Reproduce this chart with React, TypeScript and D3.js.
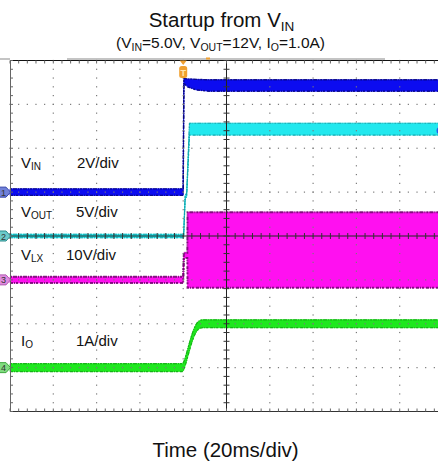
import React from "react";
import * as d3 from "d3";

// Oscilloscope capture: startup from VIN, four channels.
// Horizontal: 20 ms/div over 10 divisions. Vertical: 8 divisions.

const W = 438;
const H = 466;

// Channel 1: VIN (V), 2 V/div
const vinTime = [0, 80.0, 80.3, 82, 86, 92, 100, 200];
const vinLow = [-0.15, -0.15, 4.95, 4.8, 4.66, 4.6, 4.6, 4.6];
const vinHigh = [0.15, 0.15, 5.18, 5.16, 5.14, 5.12, 5.12, 5.12];

// Channel 2: VOUT (V), 5 V/div
const voutTime = [0, 80.2, 80.9, 81.6, 82.9, 83.4, 200];
const voutLow = [-0.2, -0.2, 4.2, 4.5, 11.5, 11.5, 11.5];
const voutHigh = [0.2, 0.2, 4.6, 4.9, 12.85, 12.85, 12.85];

// Channel 3: VLX (V), 10 V/div
const vlxTime = [0, 80.0, 80.3, 81.9, 82.0, 200];
const vlxLow = [-0.7, -0.7, 5.0, 5.0, -1.8, -1.8];
const vlxHigh = [0.7, 0.7, 6.2, 6.2, 15.4, 15.4];

// Channel 4: IO (A), 1 A/div
const ioTime = [0, 79.6, 80.4, 81.2, 82.0, 82.8, 83.6, 84.4, 85.2, 86.0, 87.0, 88.0, 89.0, 200];
const ioLow = [-0.09, -0.09, -0.03, 0.09, 0.23, 0.37, 0.51, 0.63, 0.73, 0.81, 0.87, 0.9, 0.91, 0.91];
const ioHigh = [0.09, 0.09, 0.15, 0.27, 0.41, 0.55, 0.69, 0.81, 0.91, 0.99, 1.05, 1.08, 1.09, 1.09];

const channelLabels = ["IN", "OUT", "LX", "O"];
const channelScales = ["2V/div", "5V/div", "10V/div", "1A/div"];

const TRIGGER_MS = 80;

type Channel = {
  id: number;
  time: number[];
  low: number[];
  high: number[];
  perDiv: number;
  offsetDiv: number;
  fill: string;
  edge: string;
  edgeWidth: number;
  marker: string;
  markerEdge: string;
  curve: d3.CurveFactory;
};

const channels: Channel[] = [
  { id: 1, time: vinTime, low: vinLow, high: vinHigh, perDiv: 2, offsetDiv: 1, fill: "#0c0cf0", edge: "#06067a", edgeWidth: 1.4, marker: "#7080d8", markerEdge: "#3040a8", curve: d3.curveLinear },
  { id: 2, time: voutTime, low: voutLow, high: voutHigh, perDiv: 5, offsetDiv: 0, fill: "#22e8ee", edge: "#109aa2", edgeWidth: 1.2, marker: "#6ccaca", markerEdge: "#2c8c8c", curve: d3.curveLinear },
  { id: 3, time: vlxTime, low: vlxLow, high: vlxHigh, perDiv: 10, offsetDiv: -1, fill: "#ff10f0", edge: "#6e0a6c", edgeWidth: 2, marker: "#e08ce0", markerEdge: "#b058b0", curve: d3.curveLinear },
  { id: 4, time: ioTime, low: ioLow, high: ioHigh, perDiv: 1, offsetDiv: -3, fill: "#1ee81e", edge: "#12a812", edgeWidth: 1.2, marker: "#80dc80", markerEdge: "#40a840", curve: d3.curveMonotoneX },
];

const x = d3.scaleLinear().domain([0, 200]).range([10, 443]);
const yDiv = d3.scaleLinear().domain([-4, 4]).range([411.5, 60.5]);

const majorX = d3.range(0, 201, 20);
const minorX = d3.range(0, 200.01, 4);
const majorY = d3.range(-4, 4.01, 1);
const minorY = d3.range(-4, 4.001, 0.2);

const font = "'Liberation Sans', Arial, sans-serif";

export default function App() {
  const cx = x(100);
  const cy = yDiv(0);

  const traces = channels.map((ch) => {
    const yv = (v: number) => yDiv(ch.offsetDiv + v / ch.perDiv);
    const idx = ch.time.map((_, i) => i);
    const area = d3
      .area<number>()
      .x((i) => x(ch.time[i]))
      .y0((i) => yv(ch.low[i]))
      .y1((i) => yv(ch.high[i]))
      .curve(ch.curve);
    const lo = d3.line<number>().x((i) => x(ch.time[i])).y((i) => yv(ch.low[i])).curve(ch.curve);
    const hi = d3.line<number>().x((i) => x(ch.time[i])).y((i) => yv(ch.high[i])).curve(ch.curve);
    return (
      <g key={ch.id}>
        <path d={area(idx) || ""} fill={ch.fill} stroke={ch.fill} strokeWidth={0.8} />
        <path d={lo(idx) || ""} fill="none" stroke={ch.edge} strokeWidth={ch.edgeWidth} strokeDasharray="3 1 1 1 2 2" opacity={0.85} />
        <path d={hi(idx) || ""} fill="none" stroke={ch.edge} strokeWidth={ch.edgeWidth} strokeDasharray="2 1 4 1 1 1" opacity={0.85} />
      </g>
    );
  });

  // dotted graticule
  const dots: React.ReactNode[] = [];
  majorX.forEach((t, i) => {
    if (i === 0 || t === 100 || t === 200) return;
    minorY.forEach((d, j) => {
      dots.push(<rect key={`v${i}-${j}`} x={x(t) - 0.6} y={yDiv(d) - 0.6} width={1.2} height={1.2} fill="#7a7a7a" />);
    });
  });
  majorY.forEach((d, i) => {
    if (d === -4 || d === 0 || d === 4) return;
    minorX.forEach((t, j) => {
      dots.push(<rect key={`h${i}-${j}`} x={x(t) - 0.6} y={yDiv(d) - 0.6} width={1.2} height={1.2} fill="#7a7a7a" />);
    });
  });

  const ticks: React.ReactNode[] = [];
  minorY.forEach((d, j) => {
    const yy = yDiv(d);
    ticks.push(<line key={`cvt${j}`} x1={cx - 3} x2={cx + 3} y1={yy} y2={yy} stroke="#333" strokeWidth={1} />);
    ticks.push(<line key={`lt${j}`} x1={10} x2={13} y1={yy} y2={yy} stroke="#666" strokeWidth={1} />);
  });
  minorX.forEach((t, j) => {
    const xx = x(t);
    ticks.push(<line key={`cht${j}`} x1={xx} x2={xx} y1={cy - 3} y2={cy + 3} stroke="#333" strokeWidth={1} />);
    ticks.push(<line key={`tt${j}`} x1={xx} x2={xx} y1={60.5} y2={63.5} stroke="#666" strokeWidth={1} />);
    ticks.push(<line key={`bt${j}`} x1={xx} x2={xx} y1={408.5} y2={411.5} stroke="#666" strokeWidth={1} />);
  });

  const tx = x(TRIGGER_MS);

  const labelY = [168, 217, 260, 346];
  const scaleX = [77, 76, 66, 76];

  return (
    <svg width={W} height={H} style={{ position: "absolute", left: 0, top: 0, background: "#fff" }} fontFamily={font}>
      <rect width={W} height={H} fill="#fff" />

      <text x={221.5} y={27} textAnchor="middle" fontSize={20.5} fill="#111">
        Startup from V<tspan fontSize={13.5} dy={4}>IN</tspan>
      </text>
      <text x={220.5} y={47.5} textAnchor="middle" fontSize={15.5} fill="#111">
        (V<tspan fontSize={10.5} dy={3}>IN</tspan>
        <tspan dy={-3}>=5.0V, V</tspan>
        <tspan fontSize={10.5} dy={3}>OUT</tspan>
        <tspan dy={-3}>=12V, I</tspan>
        <tspan fontSize={10.5} dy={3}>O</tspan>
        <tspan dy={-3}>=1.0A)</tspan>
      </text>

      {/* record-length indicator above the graticule */}
      <line x1={67} x2={385} y1={59} y2={59} stroke="#b0b0b0" strokeWidth={1.5} />
      <line x1={0} x2={10} y1={59} y2={59} stroke="#b0b0b0" strokeWidth={1.5} />
      <rect x={206} y={57.5} width={4} height={2} fill="#f0a030" />

      {traces}

      {dots}

      {/* centre axes and border */}
      <line x1={cx} x2={cx} y1={60.5} y2={411.5} stroke="#222" strokeWidth={1} />
      <line x1={10} x2={443} y1={cy} y2={cy} stroke="#222" strokeWidth={1} />
      <line x1={10} x2={443} y1={60.5} y2={60.5} stroke="#111" strokeWidth={1} />
      <line x1={10} x2={443} y1={411.5} y2={411.5} stroke="#333" strokeWidth={1} />
      <line x1={10.5} x2={10.5} y1={60.5} y2={411.5} stroke="#666" strokeWidth={1} />
      {ticks}

      {/* trigger marker */}
      <path d={`M${tx - 3.5},${60.5} L${tx + 3.5},${60.5} L${tx},${65} Z`} fill="#f0a030" />
      <rect x={tx - 4} y={66} width={8} height={12} rx={2.5} fill="#f0a030" />
      <text x={tx} y={75.5} textAnchor="middle" fontSize={9} fontWeight="bold" fill="#ffe6b0">T</text>

      {/* channel ground markers */}
      {channels.map((ch) => {
        const gy = yDiv(ch.offsetDiv);
        return (
          <g key={`m${ch.id}`} transform={`translate(0,${gy})`}>
            <path d="M-3,-5 L6,-5 L10.5,0 L6,5 L-3,5 Z" fill={ch.marker} stroke={ch.markerEdge} strokeWidth={1} />
            <text x={3.5} y={3.5} textAnchor="middle" fontSize={9} fill="#333">{ch.id}</text>
          </g>
        );
      })}
      <circle cx={440} cy={yDiv(12 / 5)} r={3.5} fill="#2a5ae8" />

      {/* channel labels */}
      {channelLabels.map((sub, i) => (
        <g key={`l${i}`}>
          <text x={21} y={labelY[i]} fontSize={15} fill="#111">
            {i === 3 ? "I" : "V"}
            <tspan fontSize={10} dy={2}>{sub}</tspan>
          </text>
          <text x={scaleX[i]} y={labelY[i]} fontSize={15} fill="#111">{channelScales[i]}</text>
        </g>
      ))}

      <text x={225.5} y={457} textAnchor="middle" fontSize={20.5} fill="#111">Time (20ms/div)</text>
    </svg>
  );
}
